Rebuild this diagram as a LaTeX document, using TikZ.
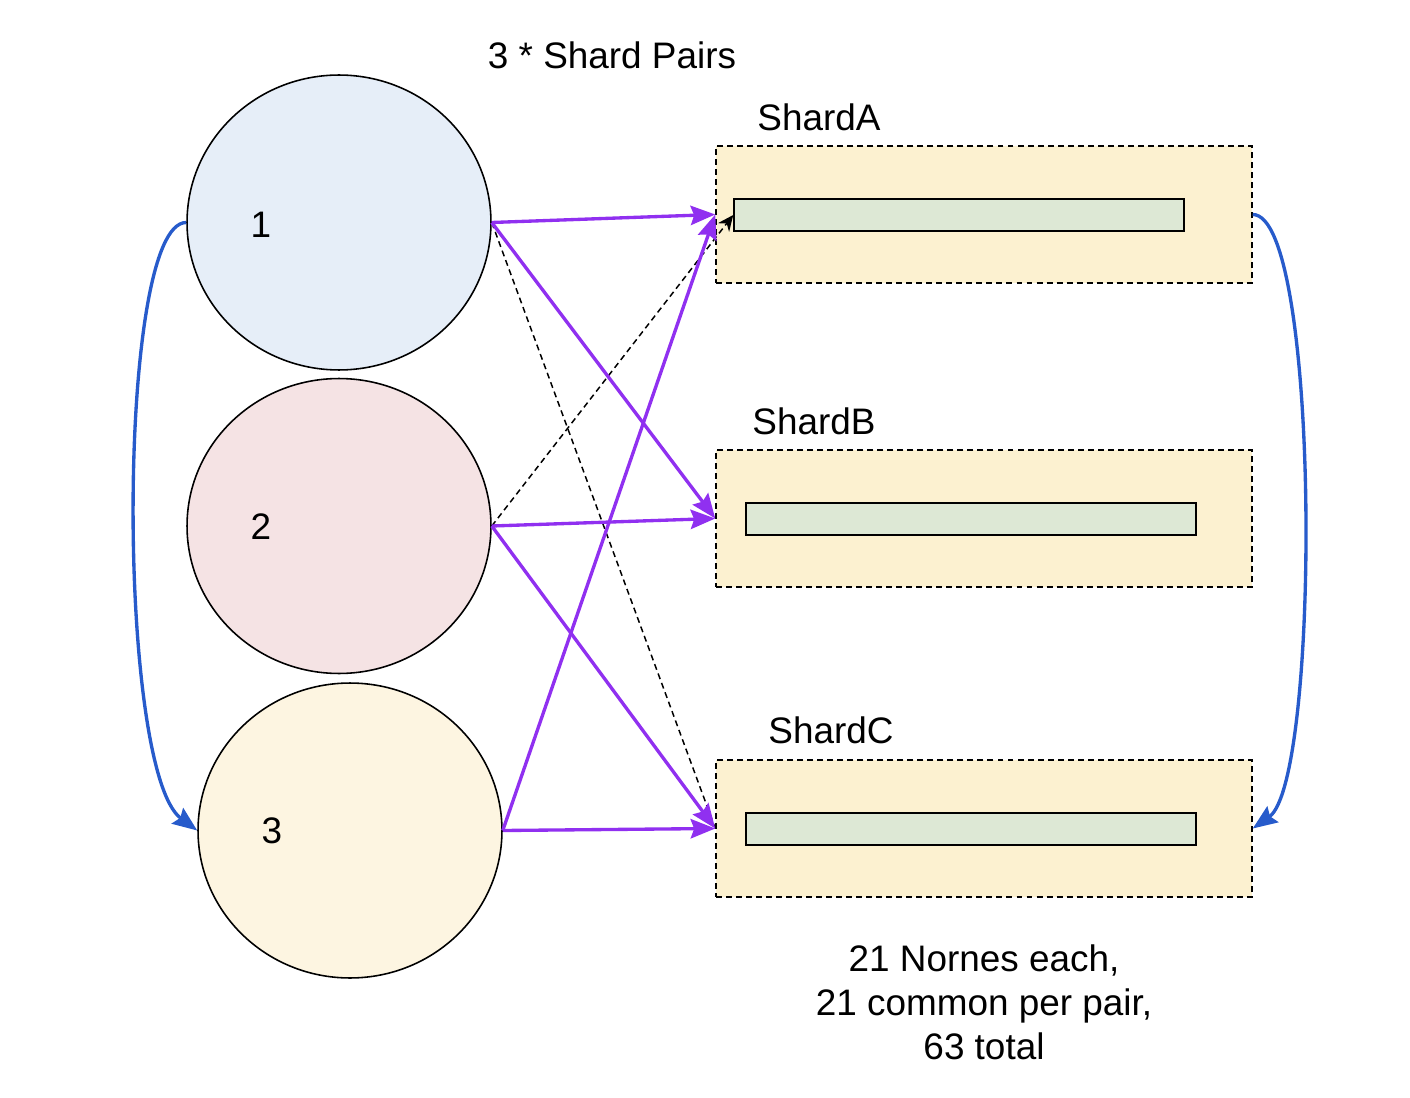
\documentclass[tikz,border=0pt]{standalone}
\usepackage{fontspec}
\setmainfont{Liberation Sans}
\usepackage{tikz}
\usepackage{xcolor}
\usetikzlibrary{arrows.meta}
\usetikzlibrary{shapes,backgrounds}

\definecolor{pairblue}{HTML}{E6EEF8}
\definecolor{pairred}{HTML}{F5E3E4}
\definecolor{pairyellow}{HTML}{FDF5E1}
\definecolor{shardfill}{HTML}{FCF1D0}
\definecolor{innerfill}{HTML}{DDE8D5}
\definecolor{linkpurple}{HTML}{9030F0}
\definecolor{linkblue}{HTML}{275BCB}

\begin{document}
\begin{tikzpicture}[x=0.02cm,y=-0.02cm,-,>={Stealth[length=14pt,width=11pt,inset=2pt]},
                    every node/.style={font=\fontsize{21}{25}\selectfont},
                    pair node/.style={ellipse,draw,line width=0.9pt,minimum width=6.08cm,
                                      minimum height=5.9cm,inner sep=0pt},
                    shard node/.style={rectangle,draw,dashed,dash pattern=on 3.4pt off 2.3pt,line width=0.9pt,
                                       fill=shardfill,minimum width=10.72cm,minimum height=2.74cm,inner sep=0pt},
                    inner node/.style={rectangle,draw,line width=0.9pt,fill=innerfill,
                                       minimum width=9cm,minimum height=0.64cm,inner sep=0pt},
                    purple edge/.style={->,draw=linkpurple,line width=1.9pt},
                    dash edge/.style={draw,dashed,dash pattern=on 3.4pt off 2.3pt,line width=0.85pt},
                    blue edge/.style={->,draw=linkblue,line width=1.9pt}]

  \useasboundingbox (0,0) rectangle (1410,1098);

  \node[pair node,fill=pairblue] (1) at (339,222.5) {};
  \node[pair node,fill=pairred] (2) at (339,526) {};
  \node[pair node,fill=pairyellow] (3) at (350,830.5) {};
  \node (n1) at (261,225) {1};
  \node (n2) at (261,527) {2};
  \node (n3) at (272,831) {3};

  \node[shard node] (A) at (984,214.5) {};
  \node[shard node] (B) at (984,518.5) {};
  \node[shard node] (C) at (984,828.5) {};
  \node[inner node] (a) at (959,215) {};
  \node[inner node] (b) at (971,519) {};
  \node[inner node] (c) at (971,829) {};

  \node (title) at (612,55) {3 * Shard Pairs};
  \node (la) at (819,117) {ShardA};
  \node (lb) at (814,421) {ShardB};
  \node (lc) at (831,730) {ShardC};
  \node[align=center] (note) at (984,1002)
    {21 Nornes each,\\21 common per pair,\\63 total};

  \path
    (1.east) edge[dash edge] (C.west)
    (2.east) edge[dash edge,->,>={Stealth[length=9pt,width=8pt]}] (a.west);

  \path
    (1.east) edge[purple edge] (A.west)
             edge[purple edge] (B.west)
    (2.east) edge[purple edge] (B.west)
             edge[purple edge] (C.west)
    (3.east) edge[purple edge] (C.west)
             edge[purple edge] (A.west);

  \draw[blue edge] (1.west) .. controls +(-70,0) and +(-81,-60) .. (3.west);
  \draw[blue edge] (A.east) .. controls +(68,0) and +(68,-48) .. (C.east);
\end{tikzpicture}
\end{document}
